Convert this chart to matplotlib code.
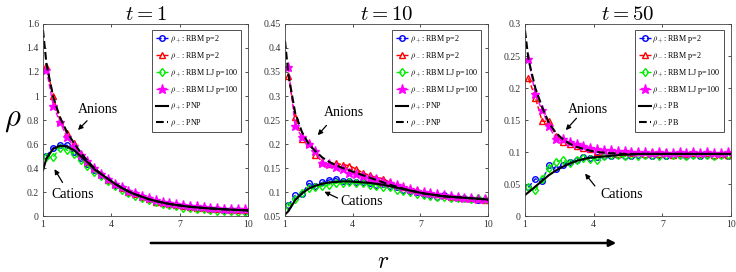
import numpy as np
import matplotlib
matplotlib.use("Agg")
import matplotlib.pyplot as plt

plt.rcParams["font.family"] = ["Liberation Serif", "DejaVu Serif"]
plt.rcParams["mathtext.fontset"] = "cm"

# ==========================
# Data
# ==========================
r_grid = [1.15, 1.45, 1.75, 2.05, 2.35, 2.65, 2.95, 3.25, 3.55, 3.85,
          4.15, 4.45, 4.75, 5.05, 5.35, 5.65, 5.95, 6.25, 6.55, 6.85,
          7.15, 7.45, 7.75, 8.05, 8.35, 8.65, 8.95, 9.25, 9.55, 9.85]
r_line = [1.0] + r_grid + [10.0]

titles = ["$t = 1$", "$t = 10$", "$t = 50$"]
ref_names = ["PNP", "PNP", "PB"]

# t = 1
t1_plus_rbm = [0.50, 0.57, 0.59, 0.59, 0.53, 0.48, 0.43, 0.38, 0.34, 0.30,
               0.26, 0.23, 0.20, 0.18, 0.16, 0.14, 0.12, 0.11, 0.10, 0.09,
               0.08, 0.075, 0.07, 0.065, 0.06, 0.055, 0.052, 0.05, 0.047, 0.045]
t1_minus_rbm = [1.25, 1.00, 0.79, 0.69, 0.61, 0.52, 0.45, 0.40, 0.35, 0.30,
                0.27, 0.23, 0.20, 0.18, 0.16, 0.14, 0.12, 0.11, 0.10, 0.09,
                0.08, 0.075, 0.07, 0.065, 0.06, 0.058, 0.055, 0.05, 0.048, 0.046]
t1_plus_lj = [0.49, 0.49, 0.57, 0.55, 0.52, 0.47, 0.42, 0.37, 0.33, 0.29,
              0.25, 0.22, 0.19, 0.17, 0.15, 0.13, 0.115, 0.10, 0.09, 0.08,
              0.07, 0.065, 0.06, 0.055, 0.05, 0.045, 0.042, 0.04, 0.036, 0.035]
t1_minus_lj = [1.22, 0.92, 0.78, 0.66, 0.58, 0.51, 0.46, 0.40, 0.35, 0.31,
               0.27, 0.24, 0.21, 0.19, 0.17, 0.15, 0.13, 0.12, 0.11, 0.10,
               0.09, 0.085, 0.08, 0.075, 0.07, 0.066, 0.062, 0.06, 0.058, 0.056]
t1_plus_ref = [0.38, 0.48, 0.56, 0.585, 0.58, 0.55, 0.50, 0.45, 0.39, 0.35, 0.31,
               0.27, 0.235, 0.205, 0.18, 0.16, 0.14, 0.125, 0.112, 0.10, 0.092,
               0.084, 0.077, 0.072, 0.067, 0.063, 0.06, 0.056, 0.053, 0.05, 0.048, 0.046]
t1_minus_ref = [1.55, 1.27, 0.99, 0.82, 0.70, 0.61, 0.53, 0.46, 0.40, 0.35, 0.31,
                0.27, 0.235, 0.205, 0.18, 0.16, 0.14, 0.125, 0.112, 0.10, 0.092,
                0.084, 0.077, 0.072, 0.067, 0.063, 0.06, 0.056, 0.053, 0.05, 0.048, 0.046]

# t = 10
t10_plus_rbm = [0.072, 0.093, 0.095, 0.118, 0.113, 0.12, 0.125, 0.128, 0.122, 0.123,
                0.12, 0.12, 0.118, 0.115, 0.117, 0.113, 0.11, 0.105, 0.103, 0.1,
                0.096, 0.093, 0.09, 0.093, 0.09, 0.088, 0.087, 0.086, 0.084, 0.083]
t10_minus_rbm = [0.342, 0.257, 0.21, 0.203, 0.178, 0.163, 0.158, 0.16, 0.157, 0.155,
                 0.148, 0.14, 0.135, 0.13, 0.128, 0.12, 0.115, 0.11, 0.106, 0.104,
                 0.1, 0.097, 0.095, 0.093, 0.09, 0.09, 0.088, 0.087, 0.085, 0.084]
t10_plus_lj = [0.07, 0.085, 0.098, 0.108, 0.11, 0.112, 0.115, 0.118, 0.118, 0.12,
               0.118, 0.118, 0.115, 0.113, 0.11, 0.11, 0.105, 0.102, 0.1, 0.096,
               0.094, 0.092, 0.09, 0.09, 0.088, 0.088, 0.087, 0.086, 0.087, 0.085]
t10_minus_lj = [0.36, 0.237, 0.215, 0.2, 0.185, 0.16, 0.158, 0.152, 0.148, 0.14,
                0.138, 0.133, 0.13, 0.127, 0.12, 0.118, 0.115, 0.11, 0.107, 0.103,
                0.1, 0.098, 0.096, 0.094, 0.092, 0.09, 0.088, 0.087, 0.086, 0.085]
t10_plus_ref = [0.053, 0.06, 0.083, 0.097, 0.107, 0.113, 0.117, 0.12, 0.121, 0.122, 0.122,
                0.121, 0.12, 0.119, 0.117, 0.115, 0.112, 0.109, 0.106, 0.103, 0.1,
                0.097, 0.095, 0.093, 0.091, 0.09, 0.089, 0.088, 0.087, 0.086, 0.085, 0.084]
t10_minus_ref = [0.415, 0.345, 0.265, 0.225, 0.2, 0.185, 0.172, 0.163, 0.156, 0.15, 0.145,
                 0.14, 0.135, 0.13, 0.125, 0.12, 0.115, 0.111, 0.107, 0.103, 0.1,
                 0.097, 0.095, 0.093, 0.091, 0.09, 0.089, 0.088, 0.087, 0.086, 0.085, 0.084]

# t = 50
t50_plus_rbm = [0.045, 0.058, 0.055, 0.079, 0.073, 0.08, 0.085, 0.088, 0.092, 0.09,
                0.092, 0.093, 0.093, 0.095, 0.093, 0.094, 0.095, 0.096, 0.094, 0.095,
                0.094, 0.095, 0.096, 0.094, 0.095, 0.094, 0.095, 0.094, 0.095, 0.093]
t50_minus_rbm = [0.215, 0.185, 0.148, 0.148, 0.125, 0.115, 0.112, 0.11, 0.107, 0.104,
                 0.1, 0.098, 0.1, 0.097, 0.1, 0.098, 0.1, 0.097, 0.1, 0.097,
                 0.1, 0.096, 0.098, 0.097, 0.098, 0.097, 0.098, 0.096, 0.097, 0.096]
t50_plus_lj = [0.045, 0.04, 0.058, 0.075, 0.085, 0.087, 0.083, 0.087, 0.09, 0.089,
               0.088, 0.094, 0.095, 0.096, 0.093, 0.095, 0.094, 0.096, 0.095, 0.094,
               0.096, 0.095, 0.095, 0.094, 0.095, 0.096, 0.095, 0.094, 0.095, 0.095]
t50_minus_lj = [0.245, 0.19, 0.165, 0.14, 0.12, 0.12, 0.115, 0.113, 0.11, 0.107,
                0.105, 0.103, 0.103, 0.101, 0.101, 0.1, 0.1, 0.1, 0.099, 0.1,
                0.099, 0.099, 0.1, 0.099, 0.1, 0.099, 0.1, 0.099, 0.099, 0.1]
t50_plus_ref = [0.033, 0.037, 0.046, 0.055, 0.064, 0.071, 0.077, 0.082, 0.086, 0.089, 0.091,
                0.092, 0.093, 0.094, 0.095, 0.096, 0.096, 0.097, 0.097, 0.097, 0.097,
                0.097, 0.097, 0.097, 0.097, 0.097, 0.097, 0.097, 0.097, 0.097, 0.097, 0.097]
t50_minus_ref = [0.29, 0.245, 0.2, 0.17, 0.145, 0.13, 0.12, 0.113, 0.108, 0.105, 0.102,
                 0.1, 0.099, 0.098, 0.098, 0.097, 0.097, 0.097, 0.097, 0.097, 0.097,
                 0.097, 0.097, 0.097, 0.097, 0.097, 0.097, 0.097, 0.097, 0.097, 0.097, 0.097]

plus_rbm = [t1_plus_rbm, t10_plus_rbm, t50_plus_rbm]
minus_rbm = [t1_minus_rbm, t10_minus_rbm, t50_minus_rbm]
plus_lj = [t1_plus_lj, t10_plus_lj, t50_plus_lj]
minus_lj = [t1_minus_lj, t10_minus_lj, t50_minus_lj]
plus_ref = [t1_plus_ref, t10_plus_ref, t50_plus_ref]
minus_ref = [t1_minus_ref, t10_minus_ref, t50_minus_ref]

y_limits = [(0, 1.6), (0.05, 0.45), (0, 0.3)]
y_ticks = [np.arange(0, 1.61, 0.2), np.arange(0.05, 0.451, 0.05), np.arange(0, 0.301, 0.05)]
y_labels = [["0", "0.2", "0.4", "0.6", "0.8", "1", "1.2", "1.4", "1.6"],
            ["0.05", "0.1", "0.15", "0.2", "0.25", "0.3", "0.35", "0.4", "0.45"],
            ["0", "0.05", "0.1", "0.15", "0.2", "0.25", "0.3"]]

# annotation positions: (text xy, arrow tail, arrow tip) in data coords
anion_notes = [((3.4, 0.89), (3.02, 0.81), (2.45, 0.70)),
               ((3.63, 0.265), (2.92, 0.243), (2.37, 0.214)),
               ((3.74, 0.166), (3.33, 0.156), (2.70, 0.131))]
cation_notes = [((2.32, 0.175), (1.92, 0.26), (1.44, 0.41)),
                ((4.4, 0.08), (3.44, 0.085), (2.63, 0.103)),
                ((5.22, 0.033), (4.13, 0.0435), (3.55, 0.0696))]

axes_left = [43, 285, 525]
axes_width = [205, 203, 206]

# ==========================
# Figure
# ==========================
fig = plt.figure(figsize=(7.36, 2.72), dpi=100)

for i in range(3):
    ax = fig.add_axes([axes_left[i] / 736, 56 / 272, axes_width[i] / 736, 192 / 272])

    ax.plot(r_grid, plus_rbm[i], "--o", color="blue", lw=1, ms=4,
            mfc="none", mew=1, label=r"$\rho_+$: RBM p=2")
    ax.plot(r_grid, minus_rbm[i], "--^", color="red", lw=1, ms=4.5,
            mfc="none", mew=1, label=r"$\rho_-$: RBM p=2")
    ax.plot(r_grid, plus_lj[i], "--d", color="#00ee00", lw=1, ms=4.5,
            mfc="none", mew=1, label=r"$\rho_+$: RBM LJ p=100")
    ax.plot(r_grid, minus_lj[i], "--*", color="magenta", lw=1, ms=6.5,
            label=r"$\rho_-$: RBM LJ p=100")
    ax.plot(r_line, plus_ref[i], "-", color="black", lw=1.5,
            label=r"$\rho_+$: " + ref_names[i])
    ax.plot(r_line, minus_ref[i], "--", color="black", lw=1.5,
            label=r"$\rho_-$: " + ref_names[i])

    ax.set_xlim(1, 10)
    ax.set_ylim(*y_limits[i])
    ax.set_xticks([1, 4, 7, 10])
    ax.set_yticks(y_ticks[i])
    ax.set_yticklabels(y_labels[i])
    ax.tick_params(direction="in", top=True, right=True, labelsize=7,
                   length=2.5, width=0.6, colors="#333333", pad=3)
    for s in ax.spines.values():
        s.set_linewidth(0.6)
        s.set_color("#444444")
    ax.set_title(titles[i], fontsize=15, pad=3)

    (tx, ty), tail, tip = anion_notes[i]
    ax.text(tx, ty, "Anions", fontsize=10, ha="center", va="center")
    ax.annotate("", xy=tip, xytext=tail,
                arrowprops=dict(arrowstyle="-|>", color="black", lw=0.9,
                                mutation_scale=7))
    (tx, ty), tail, tip = cation_notes[i]
    ax.text(tx, ty, "Cations", fontsize=10, ha="center", va="center")
    ax.annotate("", xy=tip, xytext=tail,
                arrowprops=dict(arrowstyle="-|>", color="black", lw=0.9,
                                mutation_scale=7))

    leg = ax.legend(loc="upper right", bbox_to_anchor=(0.97, 0.975), fontsize=5.9,
                    handlelength=1.5, handletextpad=0.2, labelspacing=0.6,
                    borderpad=0.4, borderaxespad=0.1, fancybox=False,
                    framealpha=1, edgecolor="#333333")
    leg.get_frame().set_linewidth(0.6)

    if i == 0:
        ax.set_ylabel(r"$\rho$", fontsize=22, rotation=0, labelpad=10, va="center")

# bottom arrow and r label
fig.patches.append(matplotlib.patches.FancyArrowPatch(
    (148 / 736, 1 - 243 / 272), (619 / 736, 1 - 243 / 272),
    transform=fig.transFigure, arrowstyle="-|>", mutation_scale=10,
    color="black", lw=1.8))
fig.text(383 / 736, 1 - 262 / 272, "$r$", fontsize=17, ha="center", va="center")

fig.savefig("out.png", dpi=100)
